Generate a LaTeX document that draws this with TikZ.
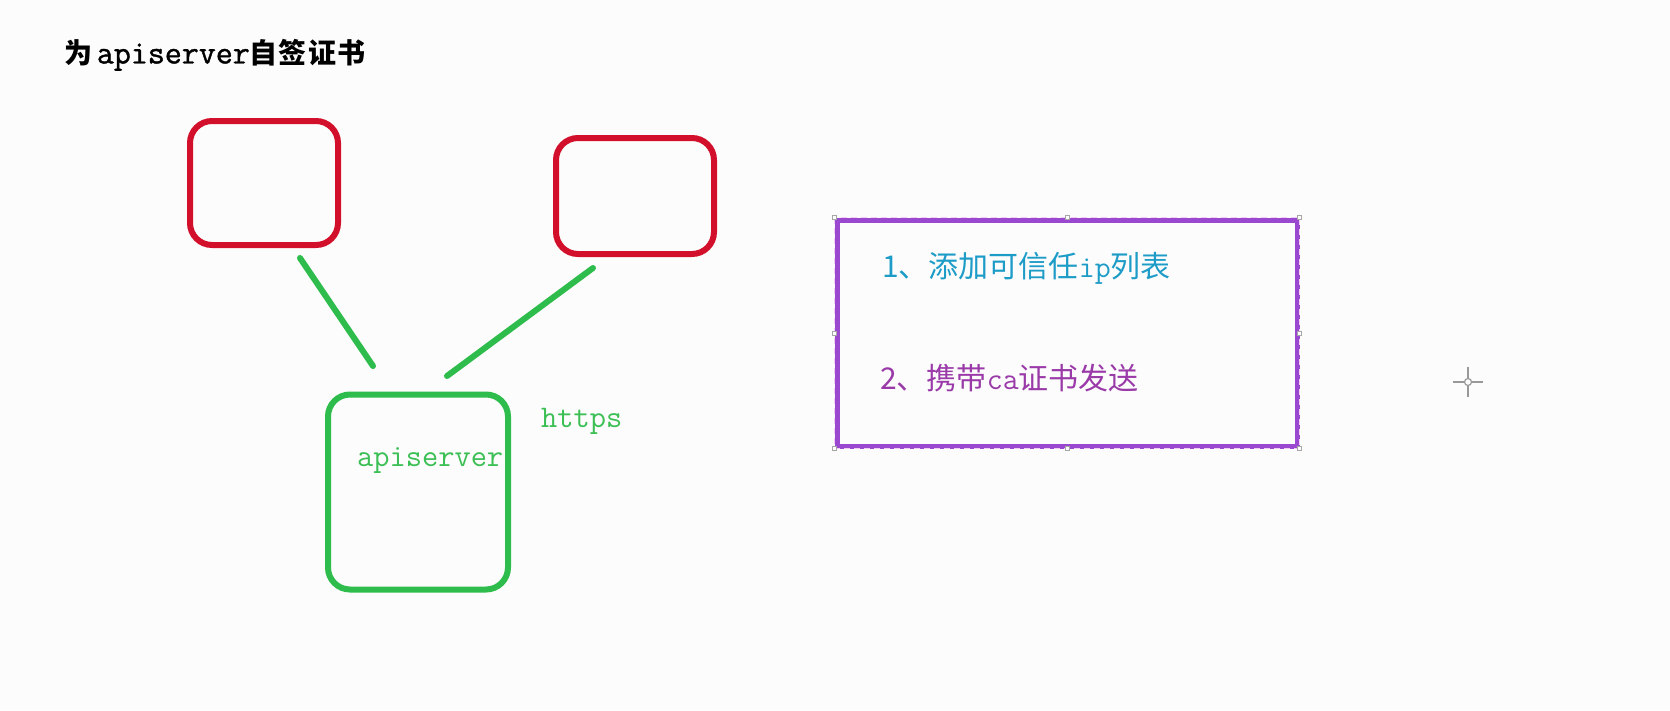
\documentclass[tikz,border=0pt]{standalone}
\usepackage{fontspec}
\setmainfont{Latin Modern Mono}
\newfontfamily\cjk{Noto Sans CJK SC}
\newfontfamily\cjkt[LetterSpace=4]{Noto Sans CJK SC}
\newfontfamily\lmono{Latin Modern Mono}
\newfontfamily\lmonob[FakeBold=1.2]{Latin Modern Mono}
\definecolor{boxred}{HTML}{D2102C}
\definecolor{lgreen}{HTML}{2EBD4C}
\definecolor{tgreen}{HTML}{3CBF55}
\definecolor{selpurple}{HTML}{9A48D0}
\definecolor{seldash}{HTML}{F2CCF6}
\definecolor{tcyan}{HTML}{1E9CC8}
\definecolor{tpurple}{HTML}{9A3AA8}
\tikzset{
  redbox/.style={draw=boxred, line width=6pt, rounded corners=22pt, inner sep=0pt},
  greenbox/.style={draw=lgreen, line width=6pt, rounded corners=22pt, inner sep=0pt},
  greenline/.style={draw=lgreen, line width=6pt, line cap=round},
  lbl/.style={inner sep=0pt, anchor=west},
  handle/.style={draw=gray!70, fill=white, line width=0.6pt, minimum size=4pt, inner sep=0pt}
}
\begin{document}
\begin{tikzpicture}[x=1pt,y=-1pt]
\useasboundingbox (0,0) rectangle (1670,710);
\fill[white!99!black] (0,0) rectangle (1670,710);
% title
\node[lbl] (title) at (64,55) {\fontsize{28}{28}\selectfont\cjkt\bfseries 为\,{\lmonob\fontsize{33}{33}\selectfont apiserver}自签证书};
% red boxes
\node[redbox, minimum width=148pt, minimum height=124pt] (r1) at (264,183) {};
\node[redbox, minimum width=158pt, minimum height=116pt] (r2) at (635,196) {};
% green box
\node[greenbox, minimum width=180pt, minimum height=195pt] (api) at (418,492) {};
\node[lbl, text=tgreen] (apil) at (357,461) {\fontsize{31.5}{31.5}\selectfont apiserver};
\node[lbl, text=tgreen] (https) at (541,421) {\fontsize{31.5}{31.5}\selectfont https};
% connectors
\coordinate (l1a) at (300,258);
\coordinate (l1b) at (373,366);
\coordinate (l2a) at (593,268);
\coordinate (l2b) at (447,376);
\draw[greenline] (l1a) -- (l1b);
\draw[greenline] (l2a) -- (l2b);
% selection frame
\node[draw=selpurple, line width=5pt, minimum width=460pt, minimum height=226pt, inner sep=0pt] (sel) at (1067,333) {};
\draw[seldash, line width=1.8pt, dash pattern=on 6pt off 4pt] (sel.north west) rectangle (sel.south east);
\foreach \a in {north west,north,north east,east,south east,south,south west,west}
  \node[handle] at (sel.\a) {};
\node[lbl, text=tcyan] (t1) at (882,268) {\fontsize{30}{30}\selectfont\cjk 1、添加可信任{\lmono\fontsize{31}{31}\selectfont ip}列表};
\node[lbl, text=tpurple] (t2) at (880,378) {\fontsize{30}{30}\selectfont\cjk 2、携带{\lmono\fontsize{31}{31}\selectfont ca}证书发送};
% cursor
\node[circle, draw=gray!80, line width=1.2pt, minimum size=7pt, inner sep=0pt] (cur) at (1468,382) {};
\draw[gray!80, line width=1.6pt] (cur.north) -- ++(0,-11) (cur.south) -- ++(0,11) (cur.west) -- ++(-11,0) (cur.east) -- ++(11,0);
\end{tikzpicture}
\end{document}
